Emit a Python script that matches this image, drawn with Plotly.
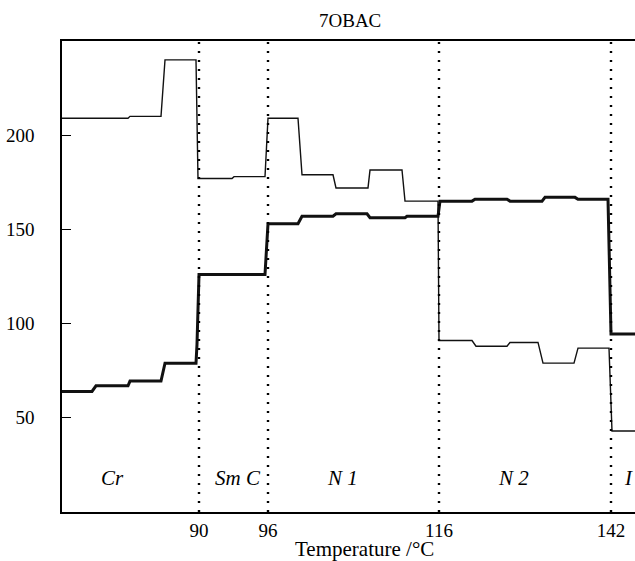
import plotly.graph_objects as go

# ---- data (x = measurement sequence position, y = signal) ----
thin_x = [0, 66, 68, 99, 103, 134, 136, 170, 172, 203, 206, 236, 240, 271, 274, 306, 308,
          340, 343, 376, 377, 410, 414, 445, 448, 476, 481, 512, 516, 547, 550, 573]
thin_y = [209, 209, 210, 210, 240, 240, 177, 177, 178, 178, 209, 209, 179, 179, 172, 172, 181.5,
          181.5, 165, 165, 91, 91, 88, 88, 90, 90, 79, 79, 87, 87, 43, 43]

thick_x = [0, 30, 34, 66, 68, 99, 103, 134, 135, 137, 203, 206, 236, 240, 271, 274, 305, 308,
           343, 345, 376, 378, 410, 413, 445, 448, 480, 483, 513, 516, 546, 549, 573]
thick_y = [64, 64, 67, 67, 69.5, 69.5, 79, 79, 89, 126, 126, 153, 153, 157, 157, 158.3, 158.3, 156.2,
           156.2, 157, 157, 165, 165, 166, 166, 165, 165, 167, 167, 166, 166, 94.5, 94.5]

boundary_x = [137, 206, 377, 549]
boundary_labels = ["90", "96", "116", "142"]

phase_names = ["Cr", "Sm C", "N 1", "N 2", "I"]
phase_x = [50, 176, 280, 451, 566]
phase_y = [18, 18, 18, 18, 18]

y_ticks = [50, 100, 150, 200]

SERIF = "Liberation Serif"

fig = go.Figure()
fig.add_trace(go.Scatter(x=thin_x, y=thin_y, mode="lines",
                         line=dict(color="#111", width=1.4), showlegend=False))
fig.add_trace(go.Scatter(x=thick_x, y=thick_y, mode="lines",
                         line=dict(color="#111", width=3), showlegend=False))

for bx in boundary_x:
    fig.add_shape(type="line", xref="x", yref="paper", x0=bx, x1=bx, y0=0, y1=1,
                  line=dict(color="black", width=2.4, dash="2px,7px"), layer="above")

for name, px, py in zip(phase_names, phase_x, phase_y):
    fig.add_annotation(x=px, y=py, xref="x", yref="y", text=f"<i>{name}</i>",
                       showarrow=False, font=dict(family=SERIF, size=21, color="black"))

fig.add_annotation(x=(350 - 62) / 573, y=1.0425, xref="paper", yref="paper", text="7OBAC",
                   showarrow=False, font=dict(family=SERIF, size=19, color="black"),
                   xanchor="center", yanchor="middle")
fig.add_annotation(x=(364 - 62) / 573, y=-0.0775, xref="paper", yref="paper",
                   text="Temperature /°C", showarrow=False,
                   font=dict(family=SERIF, size=21, color="black"),
                   xanchor="center", yanchor="middle")

fig.update_layout(
    width=635, height=561,
    margin=dict(l=62, r=0, t=41, b=49, pad=0, autoexpand=False),
    paper_bgcolor="white", plot_bgcolor="white",
    xaxis=dict(range=[0, 573], showgrid=False, zeroline=False, showline=True,
               linecolor="black", linewidth=2, mirror=True, ticks="", automargin=False,
               tickvals=boundary_x, ticktext=boundary_labels,
               tickfont=dict(family=SERIF, size=19, color="black"),
               ticklabelstandoff=0),
    yaxis=dict(range=[0, 250], showgrid=False, zeroline=False, showline=True, automargin=False,
               linecolor="black", linewidth=1.6, ticks="inside", ticklen=9,
               tickcolor="black", tickwidth=1.3, tickvals=y_ticks,
               tickfont=dict(family=SERIF, size=19, color="black"),
               ticklabelstandoff=22),
)

fig.write_html("out.html", config={"displayModeBar": False},
               post_script="document.body.style.margin='0';document.body.style.overflow='hidden';")
